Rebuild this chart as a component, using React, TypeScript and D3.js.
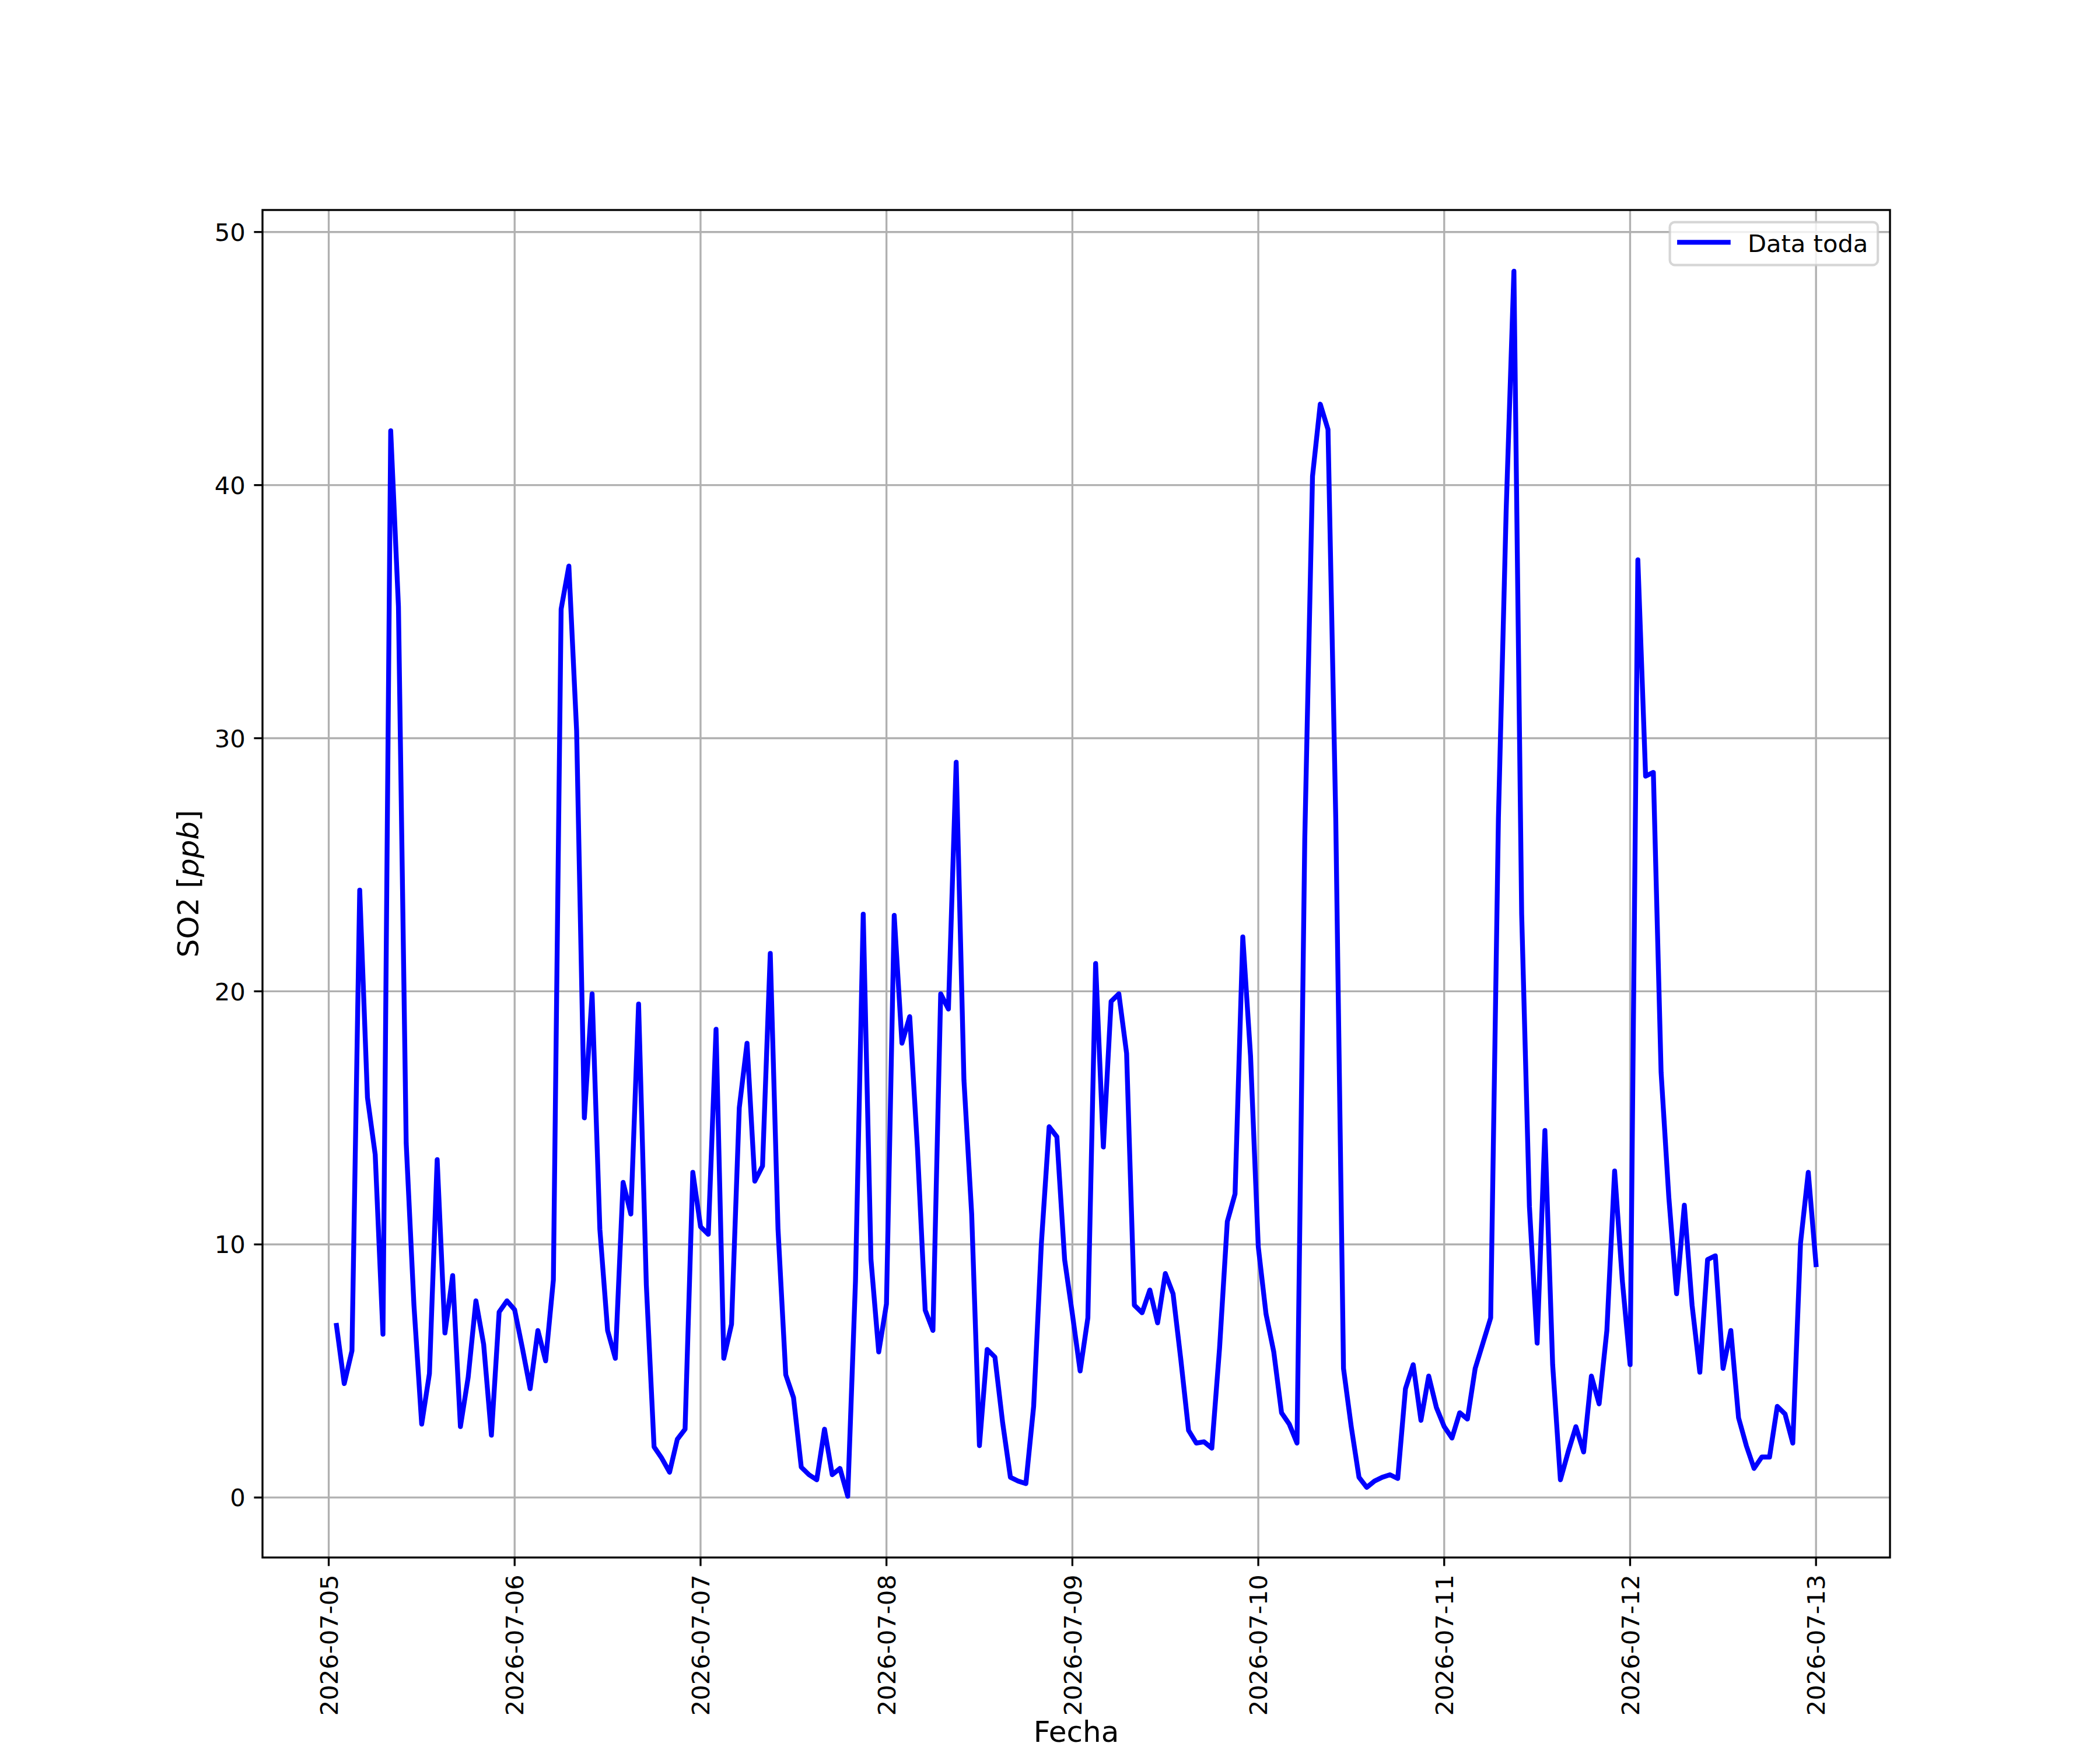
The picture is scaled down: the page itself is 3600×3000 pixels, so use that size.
import React from 'react';
import * as d3 from 'd3';

// ---- Data (hourly SO2, ppb), starting 2026-07-05 01:00 UTC ----
const startIso = '2026-07-05T00:00:00Z';
const day1 = [6.8, 4.5, 5.8, 24.0, 15.8, 13.55, 6.45, 42.15, 35.2, 14.0, 7.6, 2.9, 4.9, 13.35, 6.5, 8.77, 2.8, 4.75, 7.77, 6.05, 2.46, 7.33, 7.77, 7.42];
const day2 = [5.9, 4.3, 6.6, 5.4, 8.6, 35.1, 36.8, 30.3, 15.0, 19.9, 10.6, 6.6, 5.5, 12.45, 11.2, 19.5, 8.4, 2.0, 1.55, 1.0, 2.3, 2.7, 12.85, 10.7];
const day3 = [10.4, 18.5, 5.5, 6.85, 15.4, 17.95, 12.5, 13.1, 21.5, 10.6, 4.85, 3.95, 1.2, 0.9, 0.7, 2.7, 0.9, 1.15, 0.05, 8.55, 23.05, 9.4, 5.75, 7.65];
const day4 = [23.0, 17.95, 19.0, 13.8, 7.4, 6.6, 19.9, 19.3, 29.05, 16.5, 11.2, 2.05, 5.85, 5.55, 2.95, 0.8, 0.65, 0.55, 3.6, 10.05, 14.65, 14.25, 9.4, 7.25];
const day5 = [5.0, 7.1, 21.1, 13.85, 19.6, 19.9, 17.55, 7.6, 7.3, 8.2, 6.9, 8.85, 8.05, 5.45, 2.65, 2.15, 2.2, 1.95, 5.9, 10.9, 12.0, 22.15, 17.45, 9.9];
const day6 = [7.25, 5.75, 3.35, 2.9, 2.15, 26.0, 40.35, 43.2, 42.2, 26.85, 5.1, 2.8, 0.8, 0.4, 0.65, 0.8, 0.9, 0.75, 4.3, 5.25, 3.05, 4.8, 3.55, 2.8];
const day7 = [2.35, 3.35, 3.1, 5.1, 6.1, 7.1, 26.85, 39.0, 48.45, 23.05, 11.5, 6.1, 14.5, 5.25, 0.7, 1.8, 2.8, 1.8, 4.8, 3.7, 6.6, 12.9, 8.55, 5.25];
const day8 = [37.05, 28.5, 28.65, 16.8, 11.85, 8.05, 11.55, 7.6, 4.95, 9.4, 9.55, 5.1, 6.6, 3.15, 2.05, 1.15, 1.6, 1.6, 3.6, 3.3, 2.15, 10.05, 12.85, 9.2];
const so2Values = [...day1, ...day2, ...day3, ...day4, ...day5, ...day6, ...day7, ...day8];

const yTickValues = [0, 10, 20, 30, 40, 50];
const dateTickLabels = ['2026-07-05', '2026-07-06', '2026-07-07', '2026-07-08', '2026-07-09', '2026-07-10', '2026-07-11', '2026-07-12', '2026-07-13'];
const seriesLabel = 'Data toda';
const xAxisLabel = 'Fecha';

// ---- Layout ----
const W = 3600;
const H = 3000;
const DPI = 300;
const PT = DPI / 72;
const AX = { left: 450, right: 3240, top: 360, bottom: 2670 };
const FONT = "'DejaVu Sans', sans-serif";
const TICK_FS = 10 * PT;
const LABEL_FS = 12 * PT;
const TICK_LEN = 3.5 * PT;
const TICK_PAD = 3.5 * PT;
const THIN = 0.8 * PT;

export default function App() {
  const start = new Date(startIso).getTime();
  const data = so2Values.map((v, i) => ({ t: new Date(start + (i + 1) * 3600 * 1000), v }));

  const tExt = d3.extent(data, (d) => d.t.getTime()) as [number, number];
  const tPad = (tExt[1] - tExt[0]) * 0.05;
  const x = d3
    .scaleUtc()
    .domain([new Date(tExt[0] - tPad), new Date(tExt[1] + tPad)])
    .range([AX.left, AX.right]);

  const vExt = d3.extent(data, (d) => d.v) as [number, number];
  const vPad = (vExt[1] - vExt[0]) * 0.05;
  const y = d3
    .scaleLinear()
    .domain([vExt[0] - vPad, vExt[1] + vPad])
    .range([AX.bottom, AX.top]);

  const line = d3
    .line<{ t: Date; v: number }>()
    .x((d) => x(d.t))
    .y((d) => y(d.v));

  const xTicks = dateTickLabels.map((s) => ({ label: s, date: new Date(s + 'T00:00:00Z') }));

  // legend geometry (matplotlib-like, upper right)
  const fs = TICK_FS;
  const legRight = AX.right - 0.5 * fs;
  const legTop = AX.top + 0.5 * fs;
  const textW = 4.958 * fs;
  const legW = 0.4 * fs + 2.0 * fs + 0.8 * fs + textW + 0.4 * fs;
  const legH = 73.5;
  const legLeft = legRight - legW;
  const handleX0 = legLeft + 0.4 * fs;
  const handleX1 = handleX0 + 2.0 * fs;
  const handleY = legTop + 34.5;
  const textX = handleX1 + 0.8 * fs;
  const textBase = legTop + 51;

  return (
    <svg
      width={W}
      height={H}
      viewBox={`0 0 ${W} ${H}`}
      style={{ position: 'absolute', left: 0, top: 0, background: '#ffffff' }}
      fontFamily={FONT}
    >
      <rect x={0} y={0} width={W} height={H} fill="#ffffff" />
      <defs>
        <clipPath id="axclip">
          <rect x={AX.left} y={AX.top} width={AX.right - AX.left} height={AX.bottom - AX.top} />
        </clipPath>
      </defs>

      {/* grid */}
      <g stroke="#b0b0b0" strokeWidth={THIN}>
        {xTicks.map((tk) => (
          <line key={'gx' + tk.label} x1={x(tk.date)} x2={x(tk.date)} y1={AX.top} y2={AX.bottom} />
        ))}
        {yTickValues.map((v) => (
          <line key={'gy' + v} x1={AX.left} x2={AX.right} y1={y(v)} y2={y(v)} />
        ))}
      </g>

      {/* data line */}
      <path
        d={line(data) || ''}
        fill="none"
        stroke="#0000ff"
        strokeWidth={2 * PT}
        strokeLinejoin="round"
        strokeLinecap="square"
        clipPath="url(#axclip)"
      />

      {/* spines */}
      <rect
        x={AX.left}
        y={AX.top}
        width={AX.right - AX.left}
        height={AX.bottom - AX.top}
        fill="none"
        stroke="#000000"
        strokeWidth={THIN}
        strokeLinejoin="miter"
      />

      {/* x ticks */}
      <g>
        {xTicks.map((tk) => {
          const px = x(tk.date);
          return (
            <g key={'xt' + tk.label}>
              <line x1={px} x2={px} y1={AX.bottom} y2={AX.bottom + TICK_LEN} stroke="#000" strokeWidth={THIN} />
              <text
                transform={`translate(${px},${AX.bottom + TICK_LEN + TICK_PAD}) rotate(-90)`}
                x={0}
                y={15.2}
                textAnchor="end"
                fontSize={TICK_FS}
                fill="#000"
              >
                {tk.label}
              </text>
            </g>
          );
        })}
      </g>

      {/* y ticks */}
      <g>
        {yTickValues.map((v) => (
          <g key={'yt' + v}>
            <line x1={AX.left - TICK_LEN} x2={AX.left} y1={y(v)} y2={y(v)} stroke="#000" strokeWidth={THIN} />
            <text
              x={AX.left - TICK_LEN - TICK_PAD}
              y={y(v) + 15.2}
              textAnchor="end"
              fontSize={TICK_FS}
              fill="#000"
            >
              {String(v)}
            </text>
          </g>
        ))}
      </g>

      {/* axis labels */}
      <text x={(AX.left + AX.right) / 2} y={2986} textAnchor="middle" fontSize={LABEL_FS} fill="#000">
        {xAxisLabel}
      </text>
      <text
        transform={`translate(340,${(AX.top + AX.bottom) / 2}) rotate(-90)`}
        x={0}
        y={0}
        textAnchor="middle"
        fontSize={LABEL_FS}
        fill="#000"
      >
        SO2 [<tspan fontStyle="italic">ppb</tspan>]
      </text>

      {/* legend */}
      <g>
        <rect
          x={legLeft}
          y={legTop}
          width={legW}
          height={legH}
          rx={0.2 * fs}
          ry={0.2 * fs}
          fill="#ffffff"
          fillOpacity={0.8}
          stroke="#cccccc"
          strokeOpacity={0.8}
          strokeWidth={1.0 * PT}
        />
        <line
          x1={handleX0}
          x2={handleX1}
          y1={handleY}
          y2={handleY}
          stroke="#0000ff"
          strokeWidth={2 * PT}
          strokeLinecap="square"
        />
        <text x={textX} y={textBase} fontSize={fs} fill="#000">
          {seriesLabel}
        </text>
      </g>
    </svg>
  );
}
